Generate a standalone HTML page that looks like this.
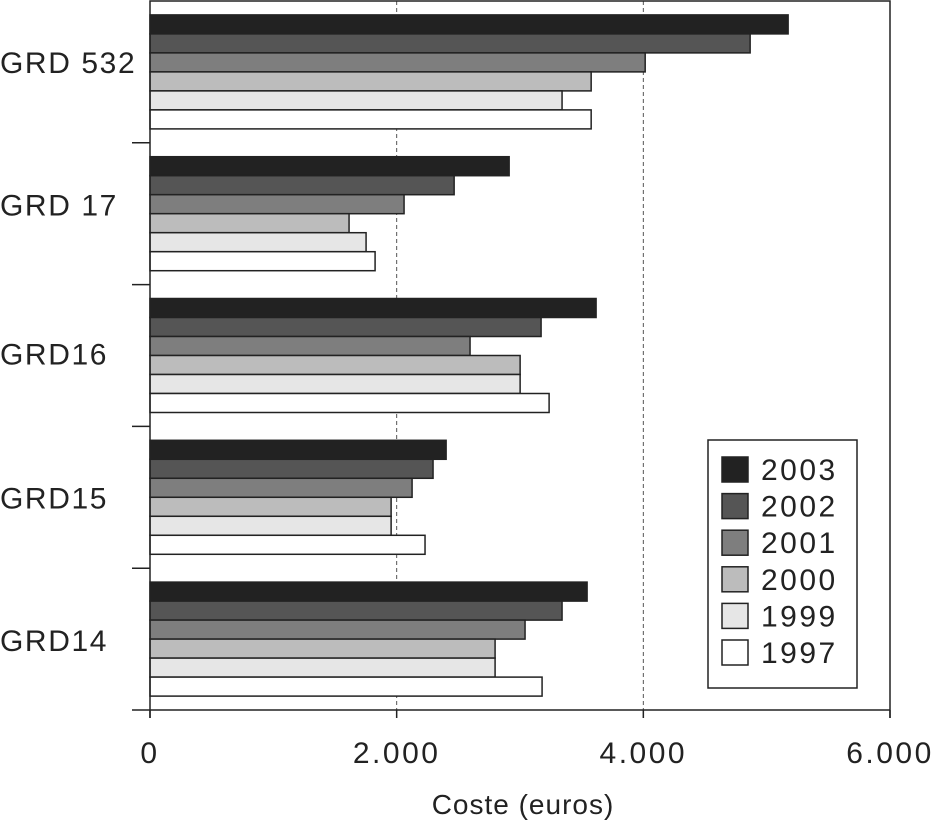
<!DOCTYPE html>
<html><head><meta charset="utf-8"><style>
body{margin:0;background:#fff;}
svg text{font-family:"Liberation Sans",sans-serif;fill:#222;}
</style></head><body>
<svg width="936" height="821">
<g id="grid"></g><g id="bars"></g><g id="axes"></g><g id="legend"></g>
</svg>
<script>
const categories=["GRD 532","GRD 17","GRD16","GRD15","GRD14"];
const years=["2003","2002","2001","2000","1999","1997"];
const colors=["#222","#555","#7e7e7e","#bcbcbc","#e6e6e6","#fff"];
const s2003=[5174,2912,3617,2401,3544];
const s2002=[4866,2466,3171,2295,3341];
const s2001=[4015,2060,2595,2125,3041];
const s2000=[3577,1614,3001,1955,2798];
const s1999=[3341,1752,3001,1955,2798];
const s1997=[3577,1825,3236,2230,3179];
const series=[s2003,s2002,s2001,s2000,s1999,s1997];
const ticks=[0,2000,4000,6000];
const tickLabels=["0","2.000","4.000","6.000"];
const NS="http://www.w3.org/2000/svg";
const x0=150,x1=890,y0=1,y1=710;
const xs=v=>x0+(x1-x0)*v/6000;
const band=(y1-y0)/categories.length;
const labelShift=[-10,-9,-2,0,1];
function mk(p,t,a){const e=document.createElementNS(NS,t);for(const k in a)e.setAttribute(k,a[k]);document.getElementById(p).appendChild(e);return e;}
[2000,4000].forEach(v=>{const e=mk("grid","line",{x1:xs(v),x2:xs(v),y1:y0,y2:y1,stroke:"#555","stroke-dasharray":"4,3","stroke-width":1});

});
const bh=19;
categories.forEach((c,i)=>{
 const top=y0+i*band+(band-bh*6)/2;
 series.forEach((s,j)=>{
  const r=mk("bars","rect",{x:x0,y:top+j*bh,width:xs(s[i])-x0,height:bh,fill:colors[j],stroke:"#222","stroke-width":1.5});
  
  
 });
 const t=mk("axes","text",{x:0,y:y0+i*band+band/2+11+labelShift[i],"font-size":30,"letter-spacing":1.6});
 t.textContent=c;
 
 
 const tk=mk("axes","line",{x1:132,x2:x0,y1:y0+(i+1)*band,y2:y0+(i+1)*band,stroke:"#222","stroke-width":1.5});
 
 
});
const fr=mk("axes","path",{d:`M${x0},${y1+8}V${y0}H${x1}V${y1+8}M${x0},${y1}H${x1}`,fill:"none",stroke:"#222","stroke-width":1.5});


ticks.forEach((v,i)=>{
 const l=mk("axes","line",{x1:xs(v),x2:xs(v),y1:y1,y2:y1+8,stroke:"#222","stroke-width":1.5});
 
 
 const t=mk("axes","text",{x:xs(v),y:763,"font-size":30,"letter-spacing":2.5,"text-anchor":"middle"});
 t.textContent=tickLabels[i];
 
 
});
const at=mk("axes","text",{x:523,y:814,"font-size":28,"letter-spacing":1,"text-anchor":"middle"});
at.textContent="Coste (euros)";


const lb=mk("legend","rect",{x:708,y:440,width:149,height:248,fill:"#fff",stroke:"#222","stroke-width":1.5});


years.forEach((y,j)=>{
 const cy=469+j*36.6;
 const r=mk("legend","rect",{x:722,y:cy-12,width:26,height:25,fill:colors[j],stroke:"#222","stroke-width":1.5});
 
 
 const t=mk("legend","text",{x:761,y:cy+11,"font-size":30,"letter-spacing":2.5});
 t.textContent=y;
 
 
});
</script>
</body></html>
